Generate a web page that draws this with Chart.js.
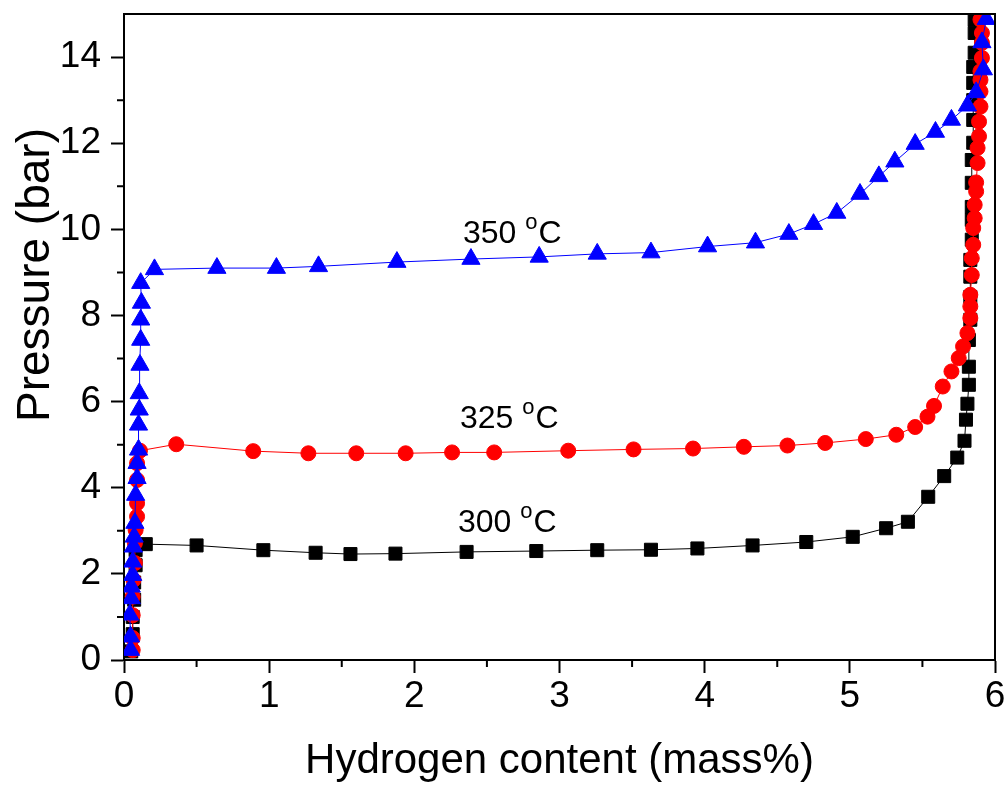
<!DOCTYPE html>
<html>
<head>
<meta charset="utf-8">
<script src="https://cdn.jsdelivr.net/npm/chart.js@4.4.0/dist/chart.umd.min.js"></script>
<style>
  html, body { margin: 0; padding: 0; background: #fff; }
</style>
</head>
<body>
<canvas id="chart" width="1008" height="787"></canvas>
<script>
// 300 °C isotherm
const h300 = [0.05, 0.06, 0.06, 0.07, 0.07, 0.08, 0.08,
  0.15, 0.50, 0.96, 1.32, 1.56, 1.87, 2.36, 2.84, 3.26, 3.63, 3.95, 4.33, 4.70, 5.02, 5.25, 5.40,
  5.54, 5.65, 5.74, 5.79, 5.80, 5.81, 5.82, 5.82, 5.82, 5.83, 5.83, 5.83, 5.83, 5.84, 5.84, 5.84,
  5.84, 5.84, 5.85, 5.85, 5.85, 5.85, 5.85, 5.86, 5.86, 5.86];
const p300 = [0.2, 0.6, 1.0, 1.4, 1.8, 2.2, 2.55,
  2.69, 2.66, 2.55, 2.49, 2.46, 2.47, 2.51, 2.53, 2.55, 2.56, 2.59, 2.66, 2.74, 2.86, 3.06, 3.21,
  3.79, 4.27, 4.70, 5.09, 5.58, 5.95, 6.39, 6.81, 7.43, 7.90, 8.43, 8.90, 9.29, 9.76, 10.22, 10.52,
  11.08, 11.61, 12.01, 12.54, 13.00, 13.40, 13.77, 14.10, 14.56, 14.87];

// 325 °C isotherm
const h325 = [0.06, 0.06, 0.06, 0.06, 0.065, 0.075, 0.075, 0.08, 0.09, 0.09, 0.09, 0.09, 0.11,
  0.36, 0.89, 1.27, 1.60, 1.94, 2.26, 2.55, 3.06, 3.51, 3.92, 4.27, 4.57, 4.83, 5.11, 5.32, 5.45,
  5.535, 5.58, 5.64, 5.70, 5.75, 5.78, 5.81, 5.83, 5.83, 5.83, 5.84, 5.84, 5.85, 5.85, 5.86, 5.86,
  5.87, 5.87, 5.88, 5.88, 5.89, 5.89, 5.90, 5.90, 5.90, 5.90, 5.91, 5.91, 5.91, 5.90];
const p325 = [0.23, 0.51, 1.04, 1.47, 1.86, 2.25, 2.71, 3.02, 3.33, 3.64, 4.18, 4.57, 4.86,
  5.01, 4.85, 4.80, 4.80, 4.80, 4.82, 4.82, 4.86, 4.89, 4.91, 4.95, 4.98, 5.04, 5.13, 5.23, 5.41,
  5.65, 5.90, 6.35, 6.70, 7.01, 7.28, 7.59, 7.94, 8.21, 8.48, 8.94, 9.33, 9.64, 10.03, 10.26, 10.57,
  10.88, 11.09, 11.54, 11.89, 12.16, 12.50, 12.85, 13.20, 13.47, 13.67, 13.98, 14.33, 14.56, 14.87];

// 350 °C isotherm
const h350 = [0.045, 0.045, 0.04, 0.05, 0.05, 0.06, 0.06, 0.065, 0.07, 0.075, 0.08, 0.09, 0.09, 0.10,
  0.10, 0.105, 0.105, 0.11, 0.115, 0.115, 0.12, 0.115,
  0.21, 0.64, 1.05, 1.34, 1.88, 2.39, 2.86, 3.26, 3.63, 4.02, 4.35, 4.58, 4.75, 4.91, 5.07, 5.20,
  5.31, 5.45, 5.59, 5.70, 5.81, 5.87, 5.92, 5.91, 5.94];
const p350 = [0.23, 0.54, 1.05, 1.43, 1.70, 1.97, 2.28, 2.63, 2.86, 3.18, 3.83, 4.22, 4.57, 4.88,
  5.46, 5.81, 6.19, 6.85, 7.43, 7.90, 8.29, 8.75,
  9.07, 9.10, 9.10, 9.14, 9.24, 9.31, 9.36, 9.43, 9.46, 9.60, 9.69, 9.89, 10.12, 10.38, 10.82, 11.23,
  11.57, 11.98, 12.26, 12.54, 12.87, 13.18, 13.71, 14.34, 14.88];

const tempLabels = ['350', '325', '300'];

const FONT = 'Arial, "Liberation Sans", sans-serif';

const pairs = (xs, ys) => xs.map((x, i) => ({ x, y: ys[i] }));

function series(label, xs, ys, color, style, radius) {
  return {
    label,
    data: pairs(xs, ys),
    showLine: true,
    borderColor: color,
    borderWidth: 1,
    backgroundColor: color,
    pointBackgroundColor: color,
    pointBorderColor: color,
    pointBorderWidth: 1,
    pointStyle: style,
    pointRadius: radius,
    pointHoverRadius: radius,
    tension: 0
  };
}

// frame, minor ticks, curve labels, y title
const extras = {
  id: 'extras',
  afterDraw(chart) {
    const { ctx, chartArea: a, scales: { x, y } } = chart;
    ctx.save();
    ctx.strokeStyle = '#000';
    ctx.lineWidth = 2;
    ctx.beginPath();
    ctx.moveTo(a.left, a.top); ctx.lineTo(a.right, a.top); ctx.lineTo(a.right, a.bottom);
    ctx.stroke();

    ctx.beginPath();
    for (let v = 0.5; v < 6; v += 1) {
      const px = x.getPixelForValue(v);
      ctx.moveTo(px, a.bottom); ctx.lineTo(px, a.bottom + 7);
    }
    for (let v = 1; v < 15; v += 2) {
      const py = y.getPixelForValue(v);
      ctx.moveTo(a.left - 7, py); ctx.lineTo(a.left, py);
    }
    ctx.stroke();

    const spots = [[2.335, 9.69], [2.314, 5.39], [2.30, 2.97]];
    ctx.fillStyle = '#000';
    ctx.textBaseline = 'alphabetic';
    ctx.textAlign = 'left';
    tempLabels.forEach((t, i) => {
      let px = x.getPixelForValue(spots[i][0]);
      const py = y.getPixelForValue(spots[i][1]);
      ctx.font = `32px ${FONT}`;
      const s = t + ' ';
      ctx.fillText(s, px, py);
      px += ctx.measureText(s).width;
      ctx.font = `22px ${FONT}`;
      ctx.fillText('o', px, py - 14);
      px += ctx.measureText('o').width + 1;
      ctx.font = `32px ${FONT}`;
      ctx.fillText('C', px, py);
    });

    ctx.translate(49, 275);
    ctx.rotate(-Math.PI / 2);
    ctx.textAlign = 'center';
    ctx.font = `46px ${FONT}`;
    ctx.fillText('Pressure (bar)', 0, 0);
    ctx.restore();
  }
};

const axisCommon = {
  grid: { drawOnChartArea: false, drawTicks: true, tickLength: 13, tickWidth: 2, tickColor: '#000' },
  border: { display: true, color: '#000', width: 2 }
};

new Chart(document.getElementById('chart'), {
  type: 'scatter',
  data: {
    datasets: [
      series('350 °C', h350, p350, '#0000ff', 'triangle', 10.5),
      series('325 °C', h325, p325, '#ff0000', 'circle', 7.5),
      series('300 °C', h300, p300, '#000000', 'rect', 9.2)
    ]
  },
  options: {
    responsive: false,
    animation: false,
    layout: { padding: { top: 14, right: 13, left: 0, bottom: 0 } },
    plugins: { legend: { display: false }, tooltip: { enabled: false } },
    scales: {
      x: {
        type: 'linear', min: 0, max: 6,
        afterFit: s => { s.height = 127; s.paddingLeft = 0; s.paddingRight = 0; },
        ticks: { stepSize: 1, padding: 2, color: '#000', font: { size: 37, family: FONT } },
        title: { display: true, text: 'Hydrogen content (mass%)', color: '#000',
          font: { size: 42, family: FONT }, padding: { top: 0, bottom: 0 } },
        ...axisCommon
      },
      y: {
        type: 'linear', min: 0, max: 15,
        afterFit: s => { s.width = 124; s.paddingTop = 0; s.paddingBottom = 0; },
        ticks: { stepSize: 2, includeBounds: false, padding: 10, color: '#000', font: { size: 37, family: FONT } },
        ...axisCommon
      }
    }
  },
  plugins: [extras]
});
</script>
</body>
</html>
